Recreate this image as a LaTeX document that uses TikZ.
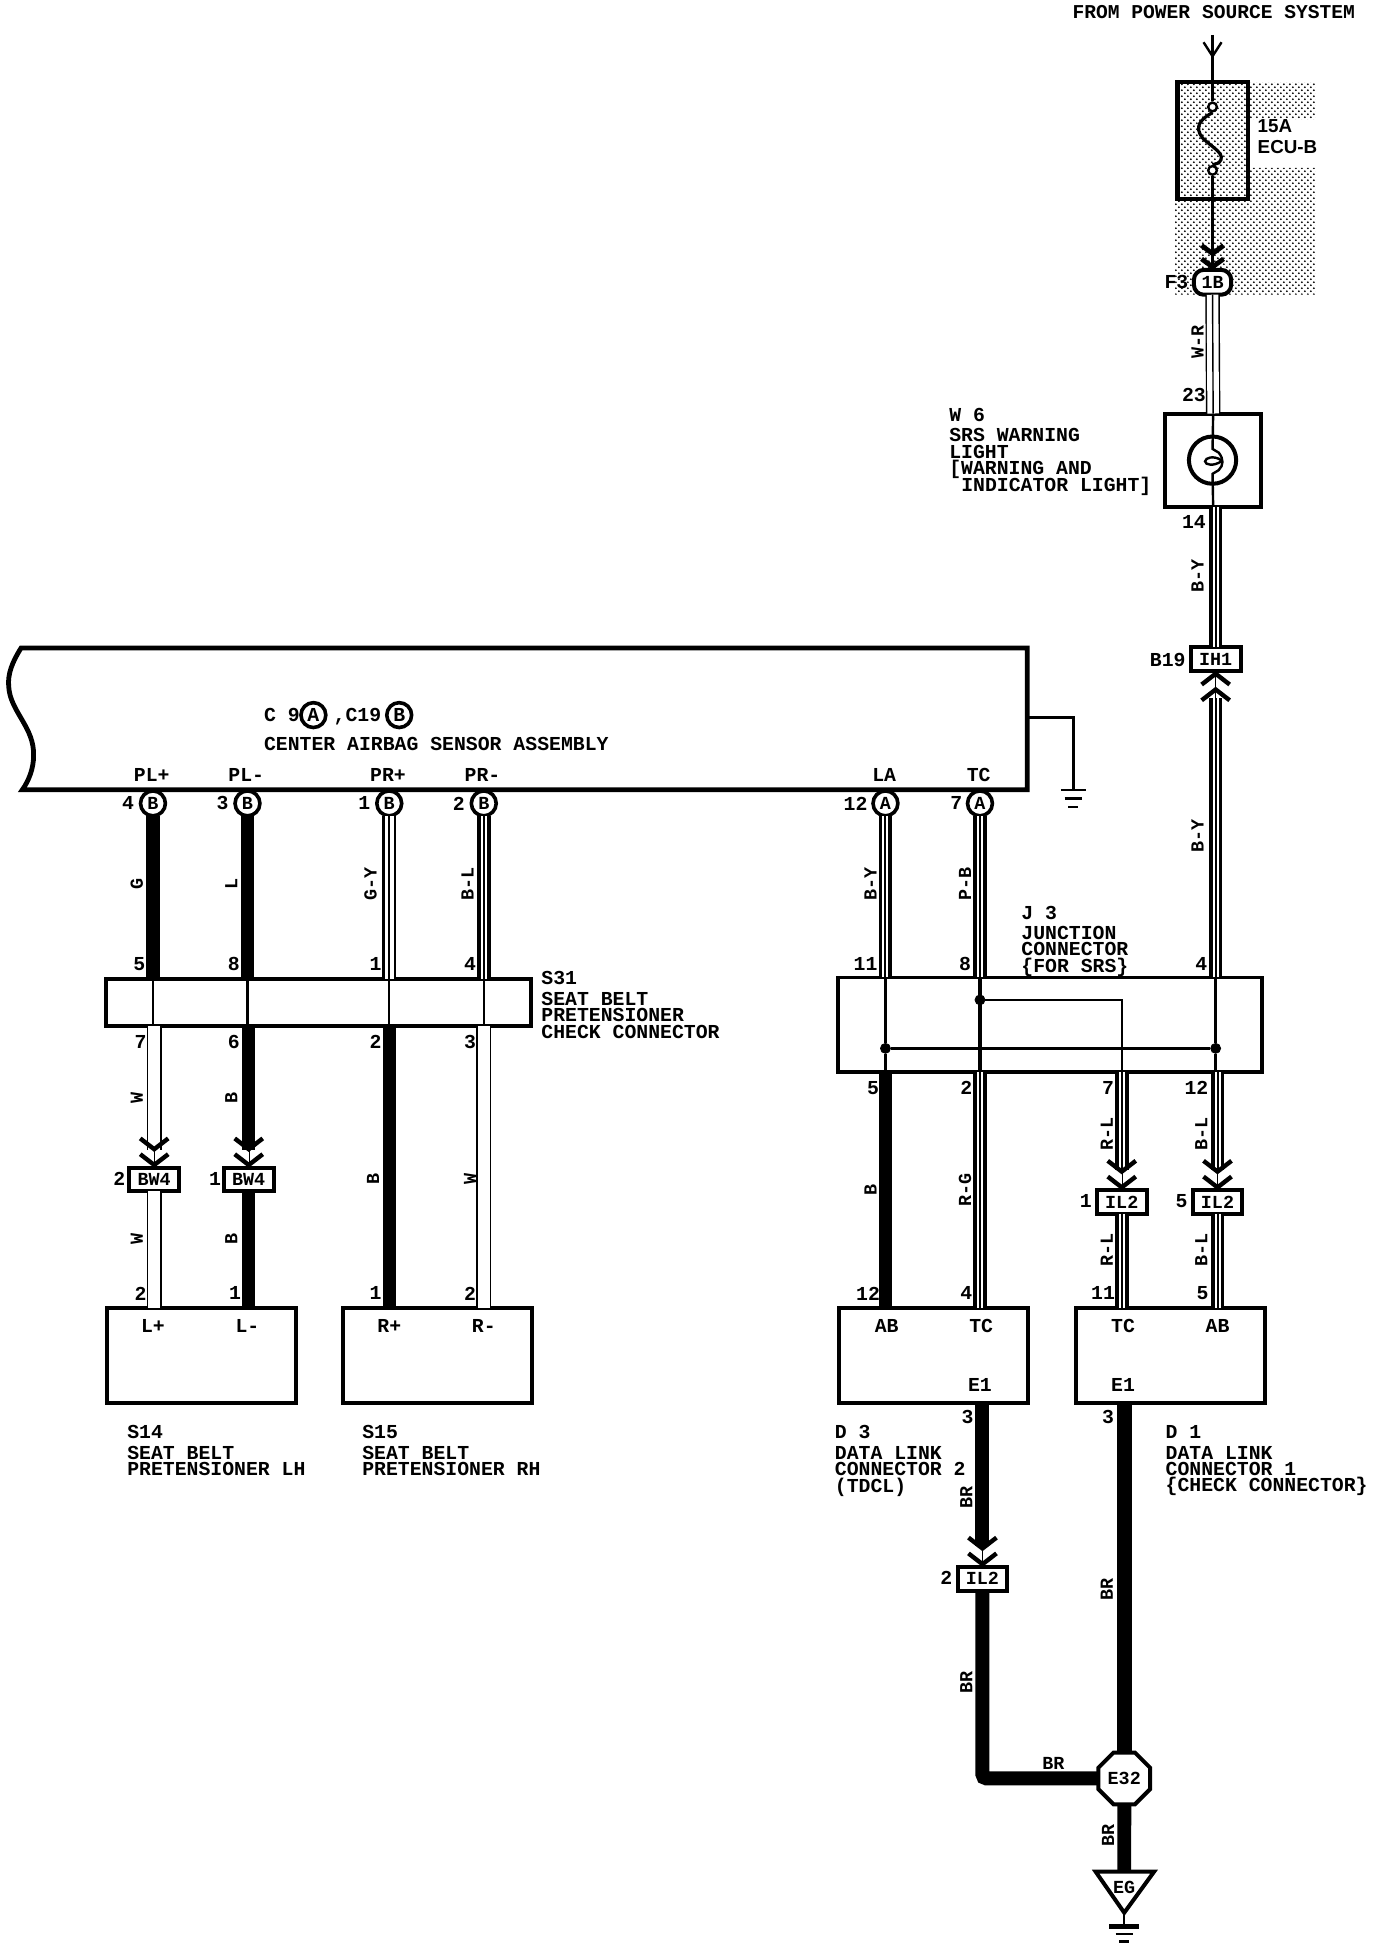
\documentclass[tikz,border=0pt]{standalone}
\usepackage{fontspec}
\usetikzlibrary{positioning,arrows.meta,patterns,shapes.geometric}
\newfontfamily\wirefont{Liberation Mono}
\newfontfamily\fusefont{Liberation Sans}
\newcommand{\du}{0.6219pt}
\newcommand{\wtxt}{\wirefont\bfseries\fontsize{9.9}{8.2}\selectfont\lineskiplimit=-20pt\relax}
\newcommand{\stxt}{\wirefont\bfseries\fontsize{9.2}{8.2}\selectfont}
\tikzset{
  txt/.style={font=\wtxt, inner sep=0pt, align=left},
  pinlab/.style={font=\wtxt, inner sep=0pt},
  wirelab/.style={font=\stxt, inner sep=0pt, rotate=90},
  partbox/.style={draw, line width=2pt, inner sep=0pt, outer sep=0pt, fill=white},
  conbox/.style={draw, line width=2pt, inner sep=0pt, outer sep=0pt, fill=white, font=\stxt, minimum width=40*\du, minimum height=19*\du},
  concirc/.style={draw, circle, line width=1.8pt, inner sep=0pt, outer sep=0pt, fill=white, font=\stxt, minimum size=20*\du},
  jdot/.style={draw, circle, fill, inner sep=0pt, minimum size=8*\du},
  wirethick/.style={line width=6.6pt},
  wirestripe/.style={line width=1pt, preaction={draw, line width=6.8pt}, preaction={draw, white, line width=3pt}},
  wiremid/.style={line width=.9pt, preaction={draw, line width=6.8pt}, preaction={draw, white, line width=4.6pt}},
  wirelight/.style={line width=.7pt, preaction={draw, line width=7.2pt}, preaction={draw, white, line width=5.8pt}},
  wirehollow/.style={line width=.7pt, double=white, double distance=6pt},
  thinline/.style={line width=1.2pt},
  chev/.style={line width=.2pt, -{Straight Barb[length=5.4pt,width=14pt,line width=2.2pt]Straight Barb[length=5.4pt,width=14pt,line width=2.2pt]}},
}

\begin{document}
\begin{tikzpicture}[x=0.6219pt, y=-0.6219pt]
  \useasboundingbox (0,0) rectangle (1106.4,1568);

  % fuse shading
  \fill[pattern=crosshatch dots] (945,66) -- (1058,66) -- (1058,96) -- (1003,96) -- (1003,135) -- (1058,135) -- (1058,237) -- (945,237) -- cycle;

  \node (src) [font=\wirefont\bfseries\fontsize{9.8}{8.2}\selectfont, inner sep=0pt] at (976,10) {FROM POWER SOURCE SYSTEM};
  \coordinate (srca) at (975,28);
  \coordinate (srcb) at (975,47);
  \node (fuse) [draw, line width=2.4pt, inner sep=0pt, outer sep=0pt, minimum width=57*\du, minimum height=94*\du] at (975,113) {};
  \node (fa) [draw, circle, line width=1.2pt, inner sep=0pt, fill=white, minimum size=7*\du] at (975,86) {};
  \node (fb) [draw, circle, line width=1.2pt, inner sep=0pt, fill=white, minimum size=7*\du] at (975,137) {};
  \node (fuselab) [font=\fusefont\bfseries\fontsize{9.4}{10.6}\selectfont, inner sep=0pt, align=left, anchor=north west] at (1011,96) {15A\\ECU-B};
  \node (F3) [pinlab] at (946,227) {F3};
  \node (c1B) [conbox, rounded corners=5pt, minimum width=30*\du, minimum height=20*\du] at (975,227) {1B};
  \draw[thinline, {Straight Barb[length=7pt,width=9pt,line width=1.2pt]}-] (srcb) -- (srca);
  \draw[line width=1.6pt] (srca) -- (fa.north);
  \draw[line width=1.6pt] (fa.south) .. controls (965,96) and (960,102) .. (967,111) .. controls (975,119) and (987,124) .. (980,131) -- (fb.north);
  \draw[line width=1.6pt] (fb.south) -- ([yshift=-.5pt]c1B.north);
  \draw[line width=1.6pt, -{Straight Barb[length=4pt,width=11pt,line width=2.4pt]Straight Barb[length=4pt,width=11pt,line width=2.4pt]}] (fb.south) -- (c1B.north);

  \node (lamp) [partbox, minimum width=77*\du, minimum height=75*\du] at (975.5,370) {};
  \node (lampc) [draw, circle, line width=2pt, inner sep=0pt, minimum size=38*\du] at (975,370) {};
  \draw[line width=1.2pt] (lamp.north) -- (975,361) -- (980,364) .. controls (984,369) and (984,374) .. (980,378) -- (975,381) -- (lamp.south);
  \draw[line width=1.2pt] (982,370) .. controls (976,366) and (969,368) .. (969,371) .. controls (969,374) and (976,375) .. (982,371);
  \draw[wirelight] (c1B.south) -- (lamp.north);
  \node (p23) [pinlab] at (960,318) {23};
  \node (pW) [wirelab] at (963,275) {W-R};
  \node (W6txt) [txt, anchor=north west] at (763,328) {W 6\\[2pt]SRS WARNING\\LIGHT\\{[}WARNING AND\\\hspace*{6pt}INDICATOR LIGHT{]}};

  \node (cIH) [conbox] at (977.5,530) {IH1};
  \node (B19) [pinlab] at (939,531) {B19};
  \draw[wirestripe] (cIH.north |- lamp.south) -- (cIH.north);
  \node (p14) [pinlab] at (960,420) {14};
  \node (lBYa) [wirelab] at (963,463) {B-Y};

  % airbag sensor
  \draw[line width=2.4pt, fill=white] (826,521) -- (17,521) .. controls (10,532) and (6,542) .. (7,552) .. controls (8,572) and (28,585) .. (27,608) .. controls (27,618) and (23,628) .. (18,635) -- (826,635) -- cycle;
  \coordinate (sgnda) at (826,577);
  \coordinate (sgndb) at (863,635);
  \draw[line width=1.4pt] (sgnda) -| (sgndb);
  \draw[line width=1.2pt] (853,635) -- (873,635) (856,642) -- (870,642) (859,649) -- (867,649);

  \node (cna) [pinlab, anchor=base west] at (212,580) {C 9};
  \node (cA) [concirc, font=\wtxt] at (252,575) {A};
  \node (cnb) [pinlab, anchor=base west] at (268,580) {,C19};
  \node (cB) [concirc, font=\wtxt] at (321,575) {B};
  \node (asm) [pinlab, anchor=west] at (212,598) {CENTER AIRBAG SENSOR ASSEMBLY};

  \node (PLp) [pinlab] at (122,623) {PL+};
  \node (PLm) [pinlab] at (198,623) {PL-};
  \node (PRp) [pinlab] at (312,623) {PR+};
  \node (PRm) [pinlab] at (388,623) {PR-};
  \node (LA) [pinlab] at (711,623) {LA};
  \node (TC) [pinlab] at (787,623) {TC};

  \node (c4) [concirc] at (123,646) {B};
  \node (c3) [concirc] at (199,646) {B};
  \node (c1) [concirc] at (313,646) {B};
  \node (c2) [concirc] at (389,646) {B};
  \node (c12) [concirc] at (712,646) {A};
  \node (c7) [concirc] at (788,646) {A};
  \node (n4) [pinlab] at (103,646) {4};
  \node (n3) [pinlab] at (179,646) {3};
  \node (n1) [pinlab] at (293,646) {1};
  \node (n2) [pinlab] at (369,646) {2};
  \node (n12) [pinlab] at (688,646) {12};
  \node (n7) [pinlab] at (769,646) {7};

  % seat belt check connector
  \node (S31) [partbox, minimum width=342*\du, minimum height=38*\du] at (256,806) {};
  \draw[wirethick] (c4.south) -- (c4.south |- S31.north);
  \draw[wirethick] (c3.south) -- (c3.south |- S31.north);
  \draw[wiremid] (c1.south) -- (c1.south |- S31.north);
  \draw[wirestripe] (c2.south) -- (c2.south |- S31.north);
  \draw[thinline] (c4.south |- S31.north) -- (c4.south |- S31.south);
  \draw[thinline] (c3.south |- S31.north) -- (c3.south |- S31.south);
  \draw[thinline] (c1.south |- S31.north) -- (c1.south |- S31.south);
  \draw[thinline] (c2.south |- S31.north) -- (c2.south |- S31.south);
  \node (lG) [wirelab] at (110,711) {G};
  \node (lL) [wirelab] at (186,711) {L};
  \node (lGY) [wirelab] at (298,711) {G-Y};
  \node (lBL) [wirelab] at (376,711) {B-L};
  \node (s5) [pinlab] at (112,775) {5};
  \node (s8) [pinlab] at (188,775) {8};
  \node (s1) [pinlab] at (302,775) {1};
  \node (s4) [pinlab] at (378,775) {4};
  \node (s7) [pinlab] at (113,838) {7};
  \node (s6) [pinlab] at (188,838) {6};
  \node (s2) [pinlab] at (302,838) {2};
  \node (s3) [pinlab] at (378,838) {3};
  \node (S31txt) [txt, anchor=north west] at (435,781) {S31\\[2pt]SEAT BELT\\PRETENSIONER\\CHECK CONNECTOR};

  \node (BWa) [conbox] at (124,948.5) {BW4};
  \node (BWb) [conbox] at (200,948.5) {BW4};
  \node (bw2) [pinlab] at (96,948) {2};
  \node (bw1) [pinlab] at (173,948) {1};
  \coordinate (bwaq) at (124,925);
  \coordinate (bwbq) at (200,925);
  \draw[wirehollow] (bwaq |- S31.south) -- (bwaq);
  \draw[wirethick] (bwbq |- S31.south) -- (bwbq);
  \draw[chev] (bwaq) -- (BWa.north);
  \draw[chev] (bwbq) -- (BWb.north);
  \node (lWa) [wirelab] at (110,883) {W};
  \node (lBa) [wirelab] at (186,883) {B};
  \node (lBb) [wirelab] at (300,948) {B};
  \node (lWb) [wirelab] at (378,948) {W};
  \node (lWc) [wirelab] at (110,996) {W};
  \node (lBc) [wirelab] at (186,996) {B};

  \node (S14) [partbox, minimum width=152*\du, minimum height=76*\du] at (162,1090) {};
  \node (S15) [partbox, minimum width=152*\du, minimum height=76*\du] at (352,1090) {};
  \draw[wirehollow] (BWa.south) -- (BWa.south |- S14.north);
  \draw[wirethick] (BWb.south) -- (BWb.south |- S14.north);
  \draw[wirethick] (c1.south |- S31.south) -- (c1.south |- S15.north);
  \draw[wirehollow] (c2.south |- S31.south) -- (c2.south |- S15.north);
  \node (t2) [pinlab] at (113,1040) {2};
  \node (t1) [pinlab] at (189,1040) {1};
  \node (u1) [pinlab] at (302,1040) {1};
  \node (u2) [pinlab] at (378,1040) {2};
  \node (Lp) [pinlab] at (123,1066) {L+};
  \node (Lm) [pinlab] at (199,1066) {L-};
  \node (Rp) [pinlab] at (313,1066) {R+};
  \node (Rm) [pinlab] at (389,1066) {R-};
  \node (S14txt) [txt, anchor=north west] at (102,1146) {S14\\[2pt]SEAT BELT\\PRETENSIONER LH};
  \node (S15txt) [txt, anchor=north west] at (291,1146) {S15\\[2pt]SEAT BELT\\PRETENSIONER RH};

  % junction connector
  \node (J3) [partbox, minimum width=341*\du, minimum height=76*\du] at (844.5,824) {};
  \coordinate (jq) at (977.5,561);
  \draw[chev] (jq) -- (cIH.south);
  \draw[wirestripe] (J3.north -| jq) -- (jq);
  \node (lBYb) [wirelab] at (963,672) {B-Y};
  \draw[wirestripe] (c12.south) -- (c12.south |- J3.north);
  \draw[wirestripe] (c7.south) -- (c7.south |- J3.north);
  \node (lBYc) [wirelab] at (700,711) {B-Y};
  \node (lPB) [wirelab] at (776,711) {P-B};
  \node (j11) [pinlab] at (696,775) {11};
  \node (j8) [pinlab] at (776,775) {8};
  \node (j4) [pinlab] at (966,775) {4};
  \node (J3txt) [txt, anchor=north west] at (821,728) {J 3\\[2pt]JUNCTION\\CONNECTOR\\\{FOR SRS\}};

  \node (da) [jdot] at (788,804) {};
  \node (db) [jdot] at (712,843) {};
  \node (dc) [jdot] at (977.5,843) {};
  \coordinate (jr) at (902,862);
  \draw[thinline] (c12.south |- J3.north) -- (db) -- (c12.south |- J3.south);
  \draw[line width=1.8pt] (c7.south |- J3.north) -- (c7.south |- J3.south);
  \draw[thinline] (jq |- J3.north) -- (dc) -- (jq |- J3.south);
  \draw[thinline] (db) -- (dc);
  \draw[thinline] (da) -| (jr);
  \node (j5) [pinlab] at (702,875) {5};
  \node (j2) [pinlab] at (777,875) {2};
  \node (j7) [pinlab] at (891,875) {7};
  \node (j12) [pinlab] at (962,875) {12};

  \node (ILa) [conbox] at (902,966.5) {IL2};
  \node (ILb) [conbox] at (979,966.5) {IL2};
  \node (il1) [pinlab] at (873,966) {1};
  \node (il5) [pinlab] at (950,966) {5};
  \coordinate (ilaq) at (902,941);
  \coordinate (ilbq) at (979,941);
  \draw[wirestripe] (jr) -- (ilaq);
  \draw[wirestripe] (ilbq |- J3.south) -- (ilbq);
  \draw[chev] (ilaq) -- (ILa.north);
  \draw[chev] (ilbq) -- (ILb.north);
  \node (lB) [wirelab] at (700,957) {B};
  \node (lRG) [wirelab] at (776,957) {R-G};
  \node (lRLa) [wirelab] at (890,912) {R-L};
  \node (lBLa) [wirelab] at (966,912) {B-L};
  \node (lRLb) [wirelab] at (890,1005) {R-L};
  \node (lBLb) [wirelab] at (966,1005) {B-L};

  % data link connectors
  \node (D3) [partbox, minimum width=152*\du, minimum height=76*\du] at (751,1090) {};
  \node (D1) [partbox, minimum width=152*\du, minimum height=76*\du] at (941,1090) {};
  \draw[wirethick] (c12.south |- J3.south) -- (c12.south |- D3.north);
  \draw[wirestripe] (c7.south |- J3.south) -- (c7.south |- D3.north);
  \draw[wirestripe] (ILa.south) -- (ILa.south |- D1.north);
  \draw[wirestripe] (ILb.south) -- (ILb.south |- D1.north);
  \node (d12) [pinlab] at (698,1040) {12};
  \node (d4) [pinlab] at (777,1040) {4};
  \node (d11) [pinlab] at (887,1040) {11};
  \node (d5) [pinlab] at (967,1040) {5};
  \node (AB) [pinlab] at (713,1066) {AB};
  \node (TCa) [pinlab] at (789,1066) {TC};
  \node (Ea) [pinlab] at (788,1114) {E1};
  \node (TCb) [pinlab] at (903,1066) {TC};
  \node (ABb) [pinlab] at (979,1066) {AB};
  \node (Eb) [pinlab] at (903,1114) {E1};
  \node (d3) [pinlab] at (778,1139) {3};
  \node (d3b) [pinlab] at (891,1139) {3};
  \node (D3txt) [txt, anchor=north west] at (671,1146) {D 3\\[2pt]DATA LINK\\CONNECTOR 2\\(TDCL)};
  \node (D1txt) [txt, anchor=north west] at (937,1146) {D 1\\[2pt]DATA LINK\\CONNECTOR 1\\\{CHECK CONNECTOR\}};

  % ground wires
  \node (ILc) [conbox] at (790,1269.5) {IL2};
  \node (ilc2) [pinlab] at (761,1269) {2};
  \node (E32) [draw, regular polygon, regular polygon sides=8, line width=2pt, inner sep=0pt, outer sep=0pt, fill=white, font=\stxt, minimum size=45*\du] at (904,1430) {E32};
  \coordinate (dq) at (790,1243);
  \draw[wirethick, line width=7pt] (ILc.north |- D3.south) -- (dq);
  \draw[chev] (dq) -- (ILc.north);
  \draw[line width=7pt, rounded corners=2pt] (ILc.south) |- (E32.west);
  \draw[line width=7.6pt] (E32.north |- D1.south) -- (E32.north);
  \coordinate (egt) at (904,1505);
  \coordinate (ega) at (904,1538);
  \coordinate (egb) at (904,1549);
  \draw[line width=7pt] (E32.south) -- (egt);
  \draw[line width=2pt, line join=miter] (881,1505) -- (928,1505) -- (ega) -- cycle;
  \node (EG) [font=\stxt, inner sep=0pt] at (904,1518) {EG};
  \draw[line width=1.2pt] (ega) -- (egb);
  \draw[line width=2.2pt] (892,1549) -- (916,1549);
  \draw[line width=1.2pt] (897,1555) -- (911,1555) (900,1561) -- (908,1561);
  \node (lBRa) [wirelab] at (777,1204) {BR};
  \node (lBRb) [wirelab] at (777,1353) {BR};
  \node (lBRc) [pinlab, font=\stxt] at (847,1418) {BR};
  \node (lBRd) [wirelab] at (890,1278) {BR};
  \node (lBRe) [wirelab] at (891,1476) {BR};
\end{tikzpicture}
\end{document}
